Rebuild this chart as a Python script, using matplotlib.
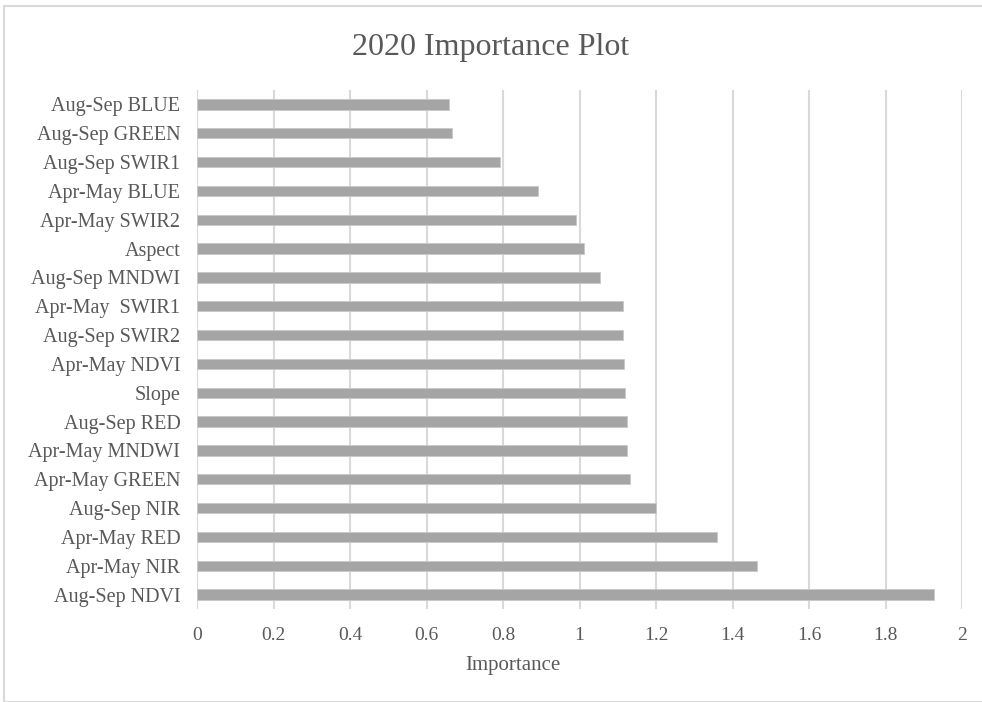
import matplotlib.pyplot as plt
from matplotlib.patches import Rectangle

# data read top -> bottom
labels = ['Aug-Sep BLUE', 'Aug-Sep GREEN', 'Aug-Sep SWIR1', 'Apr-May BLUE',
          'Apr-May SWIR2', 'Aspect', 'Aug-Sep MNDWI', 'Apr-May  SWIR1',
          'Aug-Sep SWIR2', 'Apr-May NDVI', 'Slope', 'Aug-Sep RED',
          'Apr-May MNDWI', 'Apr-May GREEN', 'Aug-Sep NIR', 'Apr-May RED',
          'Apr-May NIR', 'Aug-Sep NDVI']
importance = [0.660, 0.666, 0.791, 0.891, 0.991, 1.012, 1.054, 1.113,
              1.113, 1.116, 1.119, 1.125, 1.125, 1.131, 1.200, 1.360,
              1.465, 1.927]
xticks = [0, 0.2, 0.4, 0.6, 0.8, 1, 1.2, 1.4, 1.6, 1.8, 2]

txt = '#595959'
plt.rcParams['font.family'] = ['Liberation Serif', 'DejaVu Serif']

fig = plt.figure(figsize=(9.82, 7.02), dpi=100)
ax = fig.add_axes([197/982, 1 - 609/702, 765/982, 519/702])

pos = list(range(len(labels)))
ax.barh(pos, importance, height=0.36, color='#A5A5A5', edgecolor='#C8C8C8',
        linewidth=0.6, zorder=3)
ax.set_ylim(len(labels) - 0.5, -0.5)
ax.set_xlim(0, 2)
ax.set_yticks(pos)
ax.set_yticklabels(labels, fontsize=14.5, color=txt)
ax.set_xticks(xticks)
ax.set_xticklabels([str(t) for t in xticks], fontsize=14, color=txt)
ax.tick_params(axis='y', length=0, pad=12)
ax.tick_params(axis='x', length=0, pad=13)
ax.grid(axis='x', color='#D9D9D9', linewidth=1.5, zorder=0)
for s in ax.spines.values():
    s.set_visible(False)
ax.set_xlabel('Importance', fontsize=15, color=txt)
ax.xaxis.set_label_coords((513 - 197) / 765, -(656 - 609) / 519)
fig.text(0.5, 1 - 47/702, '2020 Importance Plot', ha='center', va='center',
         fontsize=23, color=txt)

fig.patches.append(Rectangle((4/982, 0), 1, 1 - 6/702, transform=fig.transFigure,
                             fill=False, edgecolor='#D9D9D9', linewidth=1.5))

fig.savefig('out.png', dpi=100)
